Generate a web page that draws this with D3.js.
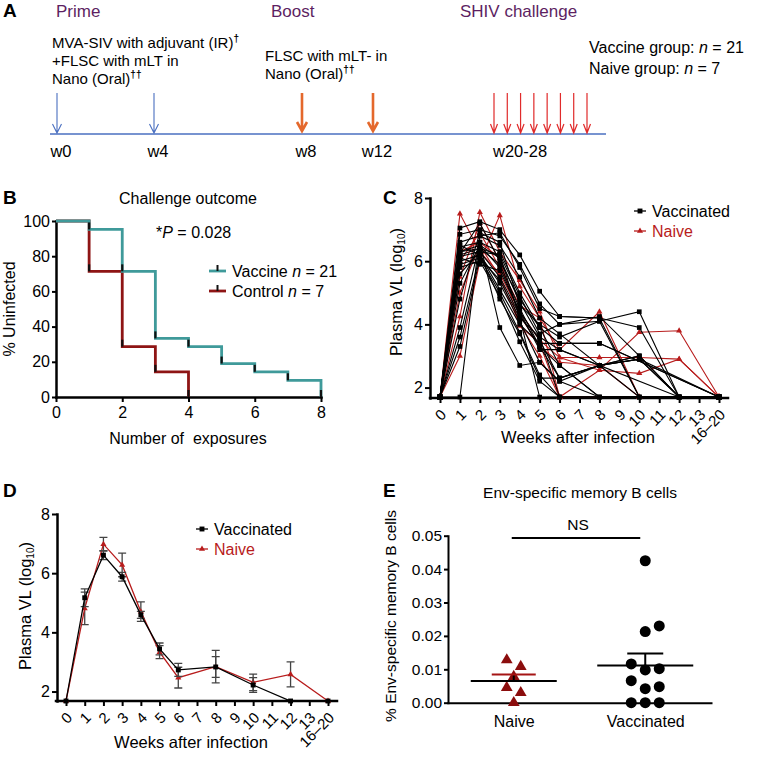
<!DOCTYPE html>
<html>
<head>
<meta charset="utf-8">
<script src="https://cdn.jsdelivr.net/npm/d3@7"></script>
<style>
  body { margin: 0; background: #fff; }
  svg { font-family: "Liberation Sans", Arial, Helvetica, sans-serif; }
</style>
</head>
<body>
<svg id="fig" width="768" height="759"></svg>
<script>
// ---- panel A: schedule ----
const primeWeeks = [0, 4];
const boostWeeks = [8, 12];
const challengeWeeks = [20, 21, 22, 23, 24, 25, 26, 27];
const timelineWeeks = [0, 4, 8, 12, 20];
const timelineLabels = ["w0", "w4", "w8", "w12", "w20-28"];

// ---- panel B: challenge outcome (% uninfected) ----
const vaccineExposures = [0, 1, 2, 3, 4, 5, 6, 7, 8];
const vaccinePct = [100, 95.2, 71.4, 33.3, 28.6, 19.0, 14.3, 9.5, 0];
const controlExposures = [0, 1, 2, 3, 4];
const controlPct = [100, 71.4, 28.6, 14.3, 0];

// ---- panels C, D: plasma viral load ----
const weekCats = ["0", "1", "2", "3", "4", "5", "6", "7", "8", "9", "10", "11", "12", "13", "16–20"];
const sampleWeeks = ["0", "1", "2", "3", "4", "5", "6", "8", "10", "12", "16–20"];

const vaccinatedVL = [
  [1.7, 7.05, 7.25, 7.0, 6.2, 5.05, 4.25, 4.2, 3.9, 1.7, 1.7],
  [1.7, 6.85, 7.0, 6.8, 5.9, 4.65, 4.0, 4.1, 4.4, 1.7, 1.7],
  [1.7, 6.6, 6.8, 6.5, 5.5, 4.2, 3.7, 2.7, 3.0, 1.7, 1.7],
  [1.7, 6.45, 6.6, 6.3, 5.0, 3.9, 3.4, 3.4, null, null, 1.7],
  [1.7, 6.3, 6.5, 6.1, 4.7, 3.6, 3.2, 2.7, 2.9, null, 1.7],
  [1.7, 6.2, 6.4, 5.9, 4.5, 3.3, 2.7, 1.7, null, null, 1.7],
  [1.7, 6.15, 6.3, 5.5, 4.3, 3.3, 2.3, 2.7, 1.7, null, 1.7],
  [1.7, 6.0, 6.2, 5.3, 4.1, 2.8, 2.2, 1.7, null, null, 1.7],
  [1.7, 5.9, 6.1, 5.0, 3.75, 2.4, 1.7, null, null, null, 1.7],
  [1.7, 5.8, 6.0, 4.9, 3.45, 2.2, 1.7, null, null, null, 1.7],
  [1.7, 5.6, 6.3, 6.2, 4.9, 3.7, 4.0, 4.25, 3.0, 1.7, 1.7],
  [1.7, 5.3, 6.5, 5.8, 4.4, 3.5, 2.3, 2.7, 2.9, 1.7, 1.7],
  [1.7, 4.8, 6.9, 6.6, 4.6, 4.0, 3.6, 4.1, 1.7, null, 1.7],
  [1.7, 3.9, 6.6, 3.9, 2.7, 2.8, 2.2, 2.7, null, 1.7, 1.7],
  [1.7, 3.6, 6.2, 5.1, 4.0, 3.4, 3.4, 3.4, null, null, 1.7],
  [1.7, 3.3, 6.1, 5.4, 4.2, 1.7, null, null, null, null, 1.7],
  [1.7, 1.7, 6.8, 6.9, 5.8, 4.5, 4.25, 4.2, 1.7, null, 1.7],
  [1.7, 6.25, 7.2, 6.0, 4.8, 3.9, 2.7, 1.7, null, null, 1.7],
  [1.7, 6.1, 5.9, 5.7, 4.4, 3.2, 3.2, 2.7, 3.0, 1.7, 1.7],
  [1.7, 6.3, 6.4, 6.2, 4.2, 3.6, 1.7, null, null, null, 1.7],
  [1.7, 6.5, 6.2, 4.8, 3.7, 2.3, 2.3, 2.7, 2.9, 1.7, 1.7]
];
const naiveVL = [
  [1.7, 7.5, 6.3, 5.6, 4.4, 3.5, 2.95, 2.55, 3.75, 3.8, 1.7],
  [1.7, 4.25, 7.55, 6.3, 5.4, 4.4, 2.95, 2.95, 2.95, 2.9, 1.7],
  [1.7, 3.0, 6.0, 7.45, 5.2, 4.2, 3.2, 4.4, 1.7, null, 1.7],
  [1.7, 6.3, 6.6, 6.1, 3.95, 3.4, 1.7, 2.55, 2.45, 2.9, 1.7],
  [1.7, 5.5, 7.2, 6.0, 4.3, 3.3, 2.8, 2.7, 1.7, null, 1.7],
  [1.7, 6.0, 6.9, 5.8, 4.6, 4.2, 1.7, null, null, null, 1.7],
  [1.7, 5.0, 6.5, 5.5, 4.0, 3.0, 1.7, null, null, null, 1.7]
];

const vaccMean = [1.68, 5.17, 6.61, 5.88, 4.59, 3.44, 2.73, 2.83, 2.22, 1.68, 1.68];
const vaccSem = [0, 0.3, 0.15, 0.15, 0.12, 0.2, 0.22, 0.35, 0.25, 0, 0];
const naiveMean = [1.68, 4.81, 6.98, 6.28, 4.70, 3.33, 2.47, 2.84, 2.31, 2.58, 1.68];
const naiveSem = [0, 0.55, 0.23, 0.4, 0.33, 0.22, 0.35, 0.55, 0.28, 0.42, 0];

// ---- panel E: Env-specific memory B cells (%) ----
const groups = ["Naive", "Vaccinated"];
const naiveB = [0.0108, 0.0128, 0.0078, 0.0045, 0.003, 0.0];
const vaccinatedB = [0.0425, 0.023, 0.0213, 0.0116, 0.0098, 0.0102, 0.0066, 0.0048, 0.0042, 0, 0, 0];

const font = "Liberation Sans, Arial, Helvetica, sans-serif";
const purple = "#5d1f62";
const teal = "#3f9a9a";
const darkRed = "#8e1515";
const naiveRed = "#b81c1c";

const svg = d3.select("#fig");

function letter(t, x, y) {
  svg.append("text").attr("x", x).attr("y", y)
    .attr("font-size", 19).attr("font-weight", "bold").text(t);
}

function styleAxis(g, fs) {
  g.attr("font-family", font).attr("font-size", fs);
  g.select(".domain").attr("stroke", "#000").attr("stroke-width", 2.5).attr("stroke-linecap", "square");
  g.selectAll(".tick line").attr("stroke", "#000").attr("stroke-width", 2);
  g.selectAll(".tick text").attr("fill", "#000");
}

// ================= A =================
letter("A", 3, 17);
const gA = svg.append("g");
const tx = d3.scaleLinear().domain([0, 4, 8, 12, 20, 27]).range([57, 154, 302, 373, 494, 587]);

[["Prime", 56], ["Boost", 271], ["SHIV challenge", 460]].forEach(([t, x]) => {
  gA.append("text").attr("x", x).attr("y", 17).attr("font-size", 17).attr("fill", purple).text(t);
});

function annot(x, y, txt, sup) {
  const t = gA.append("text").attr("x", x).attr("y", y).attr("font-size", 15).text(txt);
  if (sup) t.append("tspan").attr("font-size", 10).attr("font-weight", "bold").attr("dy", -6).text(sup);
}
annot(52, 48, "MVA-SIV with adjuvant (IR)", "†");
annot(52, 66, "+FLSC with mLT in");
annot(52, 84, "Nano (Oral)", "††");
annot(265, 61, "FLSC with mLT- in");
annot(265, 79, "Nano (Oral)", "††");

function groupLine(y, pre, n) {
  const t = gA.append("text").attr("x", 589).attr("y", y).attr("font-size", 16).text(pre);
  t.append("tspan").attr("font-style", "italic").text("n");
  t.append("tspan").text(" = " + n);
}
groupLine(53, "Vaccine group: ", 21);
groupLine(74, "Naive group: ", 7);

gA.append("line").attr("x1", 50).attr("x2", 606).attr("y1", 134).attr("y2", 134)
  .attr("stroke", "#4a6fc0").attr("stroke-width", 1.3);

function arrow(x, y0, y1, color, w, hw, hh) {
  gA.append("path")
    .attr("d", `M${x},${y0}V${y1}M${x - hw},${y1 - hh}L${x},${y1}L${x + hw},${y1 - hh}`)
    .attr("fill", "none").attr("stroke", color).attr("stroke-width", w);
}
primeWeeks.forEach(w => arrow(tx(w), 93, 133, "#4a6fc0", 1.1, 4.5, 9));
boostWeeks.forEach(w => arrow(tx(w), 93, 131, "#e4682c", 2.6, 5, 9));
challengeWeeks.forEach(w => arrow(tx(w), 93, 133, "#e02a2a", 1.2, 3.5, 9));

timelineWeeks.forEach((w, i) => {
  const last = i === timelineWeeks.length - 1;
  gA.append("text").attr("x", last ? tx(w) - 1 : tx(w) + 4).attr("y", 157)
    .attr("font-size", 16.5).attr("text-anchor", last ? "start" : "middle")
    .text(timelineLabels[i]);
});

// ================= B =================
letter("B", 3, 204);
const gB = svg.append("g");
const bx = d3.scaleLinear().domain([0, 8]).range([56, 321]);
const by = d3.scaleLinear().domain([0, 100]).range([397, 221]);

gB.append("text").attr("x", 188).attr("y", 204).attr("text-anchor", "middle")
  .attr("font-size", 16).text("Challenge outcome");

gB.append("g").attr("transform", "translate(0,397)")
  .call(d3.axisBottom(bx).tickValues([0, 2, 4, 6, 8]).tickSize(5).tickPadding(5).tickSizeOuter(0))
  .call(styleAxis, 16);
gB.append("g").attr("transform", "translate(56,0)")
  .call(d3.axisLeft(by).tickValues([0, 20, 40, 60, 80, 100]).tickSize(4).tickPadding(2).tickSizeOuter(0))
  .call(styleAxis, 16);

const stepLine = d3.line().x(d => bx(d[0])).y(d => by(d[1])).curve(d3.curveStepAfter);
const control = controlExposures.map((e, i) => [e, controlPct[i]]);
const vaccine = vaccineExposures.map((e, i) => [e, vaccinePct[i]]);
[[control, darkRed], [vaccine, teal]].forEach(([pts, col]) => {
  gB.append("path").datum(pts).attr("d", stepLine)
    .attr("fill", "none").attr("stroke", col).attr("stroke-width", 2.8);
  gB.selectAll(null).data(pts.slice(1)).join("line")
    .attr("x1", d => bx(d[0])).attr("x2", d => bx(d[0]))
    .attr("y1", d => by(d[1])).attr("y2", d => by(d[1]) - 7)
    .attr("stroke", "#111").attr("stroke-width", 2.2);
});

const pt = gB.append("text").attr("x", 156).attr("y", 238).attr("font-size", 16).text("*");
pt.append("tspan").attr("font-style", "italic").text("P");
pt.append("tspan").text(" = 0.028");

[["Vaccine ", 21, teal, 271], ["Control ", 7, darkRed, 291]].forEach(([lab, n, col, y]) => {
  gB.append("line").attr("x1", 209).attr("x2", 226).attr("y1", y).attr("y2", y)
    .attr("stroke", col).attr("stroke-width", 2.8);
  gB.append("line").attr("x1", 217.5).attr("x2", 217.5).attr("y1", y).attr("y2", y - 6)
    .attr("stroke", "#111").attr("stroke-width", 2);
  const t = gB.append("text").attr("x", 232).attr("y", y + 6).attr("font-size", 16).text(lab);
  t.append("tspan").attr("font-style", "italic").text("n");
  t.append("tspan").text(" = " + n);
});

gB.append("text").attr("x", 188).attr("y", 444).attr("text-anchor", "middle")
  .attr("font-size", 16).style("white-space", "pre").text("Number of  exposures");
gB.append("text").attr("transform", "translate(15,309) rotate(-90)").attr("text-anchor", "middle")
  .attr("font-size", 16).text("% Uninfected");

// ================= C & D shared =================
function vlAxes(g, x, y, o) {
  const gx = g.append("g").attr("transform", `translate(0,${o.axisY})`)
    .call(d3.axisBottom(x).tickSize(5).tickSizeOuter(0))
    .call(styleAxis, 15);
  gx.select(".domain").attr("d", `M${x.range()[0] - 10},0H${x.range()[1] + 9}`);
  gx.selectAll(".tick text").attr("text-anchor", "end").attr("x", 0).attr("y", 0)
    .attr("dy", "0.35em").attr("transform", "translate(3,14) rotate(-45)");
  g.append("g").attr("transform", `translate(${o.axisX},0)`)
    .call(d3.axisLeft(y).tickValues([2, 4, 6, 8]).tickFormat(d3.format("d"))
      .tickSize(5).tickPadding(2).tickSizeOuter(0))
    .call(styleAxis, 16);
  g.append("text").attr("x", o.titleX).attr("y", o.titleY).attr("text-anchor", "middle")
    .attr("font-size", 16.5).text("Weeks after infection");
  const yl = g.append("text").attr("transform", `translate(${o.labelX},${o.labelY}) rotate(-90)`)
    .attr("text-anchor", "middle").attr("font-size", 16.5);
  yl.append("tspan").text("Plasma VL (log");
  yl.append("tspan").attr("font-size", 10).attr("dy", 3).text("10");
  yl.append("tspan").attr("dy", -3).text(")");
  // legend
  [["Vaccinated", "#000", d3.symbolSquare, 24, 0], ["Naive", naiveRed, d3.symbolTriangle, 16, 20]].forEach(([lab, col, sym, sz, dy]) => {
    const ly = o.legY + dy;
    g.append("line").attr("x1", o.legX).attr("x2", o.legX + 12).attr("y1", ly).attr("y2", ly)
      .attr("stroke", col).attr("stroke-width", 1.3);
    g.append("path").attr("d", d3.symbol(sym, sz)()).attr("transform", `translate(${o.legX + 6},${ly})`).attr("fill", col);
    g.append("text").attr("x", o.legX + 18).attr("y", ly + 6).attr("font-size", 16).attr("fill", col).text(lab);
  });
}

function seriesPoints(vals) {
  return sampleWeeks.map((w, i) => [w, vals[i]]).filter(d => d[1] != null);
}

// ================= C =================
letter("C", 383, 204);
const gC = svg.append("g");
const cx = d3.scalePoint().domain(weekCats).range([440, 719]);
const cy = d3.scaleLinear().domain([1.67, 8]).range([398, 198]);
vlAxes(gC, cx, cy, { axisY: 398, axisX: 430, titleX: 578, titleY: 443, labelX: 402, labelY: 292, legX: 634, legY: 211 });

const cLine = d3.line().x(d => cx(d[0])).y(d => cy(d[1]));
function drawIndividuals(data, col, sym, sz) {
  data.forEach(vals => {
    const pts = seriesPoints(vals);
    gC.append("path").datum(pts).attr("d", cLine)
      .attr("fill", "none").attr("stroke", col).attr("stroke-width", 1.1);
    gC.selectAll(null).data(pts).join("path")
      .attr("d", d3.symbol(sym, sz)())
      .attr("transform", d => `translate(${cx(d[0])},${cy(d[1])})`)
      .attr("fill", col);
  });
}
drawIndividuals(naiveVL, naiveRed, d3.symbolTriangle, 16);
drawIndividuals(vaccinatedVL, "#000", d3.symbolSquare, 22);

// ================= D =================
letter("D", 3, 497);
const gD = svg.append("g");
const dx = d3.scalePoint().domain(weekCats).range([66, 328]);
const dy = d3.scaleLinear().domain([1.68, 8]).range([701, 514]);
vlAxes(gD, dx, dy, { axisY: 701, axisX: 57, titleX: 191, titleY: 748, labelX: 31, labelY: 606, legX: 196, legY: 529 });

const dLine = d3.line().x(d => dx(d[0])).y(d => dy(d[1]));
function drawMean(mean, sem, col, sym, sz) {
  const pts = sampleWeeks.map((w, i) => ({ w, m: mean[i], s: sem[i] }));
  gD.selectAll(null).data(pts.filter(d => d.s > 0)).join("path")
    .attr("d", d => {
      const x = dx(d.w), y0 = dy(d.m - d.s), y1 = dy(d.m + d.s);
      return `M${x},${y0}V${y1}M${x - 4},${y0}H${x + 4}M${x - 4},${y1}H${x + 4}`;
    })
    .attr("fill", "none").attr("stroke", "#444").attr("stroke-width", 1.3);
  gD.append("path").datum(pts.map(d => [d.w, d.m])).attr("d", dLine)
    .attr("fill", "none").attr("stroke", col).attr("stroke-width", 1.3);
  gD.selectAll(null).data(pts).join("path")
    .attr("d", d3.symbol(sym, sz)())
    .attr("transform", d => `translate(${dx(d.w)},${dy(d.m)})`)
    .attr("fill", col);
}
drawMean(naiveMean, naiveSem, naiveRed, d3.symbolTriangle, 16);
drawMean(vaccMean, vaccSem, "#000", d3.symbolSquare, 24);

// ================= E =================
letter("E", 383, 497);
const gE = svg.append("g");
const ex = d3.scalePoint().domain(groups).range([448, 711]).padding(0.5);
const ey = d3.scaleLinear().domain([0, 0.05]).range([702.7, 535.7]);

gE.append("text").attr("x", 580).attr("y", 498).attr("text-anchor", "middle")
  .attr("font-size", 15.5).text("Env-specific memory B cells");

gE.append("g").attr("transform", "translate(0,702.7)")
  .call(d3.axisBottom(ex).tickSize(0).tickPadding(13).tickSizeOuter(0))
  .call(styleAxis, 16);
gE.append("g").attr("transform", "translate(448,0)")
  .call(d3.axisLeft(ey).tickValues([0, 0.01, 0.02, 0.03, 0.04, 0.05]).tickFormat(d3.format(".2f"))
    .tickSize(4).tickPadding(2).tickSizeOuter(0))
  .call(styleAxis, 15.5);
gE.selectAll(".domain").attr("stroke-width", 2);

gE.append("text").attr("transform", "translate(396,616) rotate(-90)").attr("text-anchor", "middle")
  .attr("font-size", 15.5).text("% Env-specific memory B cells");

// NS bracket
gE.append("line").attr("x1", ex("Naive") - 2).attr("x2", ex("Vaccinated") - 5)
  .attr("y1", 538).attr("y2", 538).attr("stroke", "#000").attr("stroke-width", 2);
gE.append("text").attr("x", 578).attr("y", 530).attr("text-anchor", "middle")
  .attr("font-size", 15.5).text("NS");

// simple beeswarm offsets
function swarm(vals, r) {
  const placed = [];
  const out = new Array(vals.length);
  vals.map((v, i) => ({ v, i })).sort((a, b) => a.v - b.v).forEach(o => {
    const py = ey(o.v);
    for (let k = 0; ; k++) {
      const off = k === 0 ? 0 : (k % 2 ? 1 : -1) * Math.ceil(k / 2) * 7;
      const hit = placed.some(p => Math.hypot(p.x - off, p.y - py) < 2 * r + 2);
      if (!hit) { placed.push({ x: off, y: py }); out[o.i] = off; break; }
    }
  });
  return out;
}

function dotGroup(name, vals, col, sym, sz, r, meanHalf, capHalf, capCol) {
  const offs = swarm(vals, r);
  const x0 = ex(name);
  gE.selectAll(null).data(vals).join("path")
    .attr("d", d3.symbol(sym, sz)())
    .attr("transform", (d, i) => `translate(${x0 + offs[i]},${ey(d)})`)
    .attr("fill", col);
  const m = d3.mean(vals);
  const sem = d3.deviation(vals) / Math.sqrt(vals.length);
  gE.append("line").attr("x1", x0 - meanHalf).attr("x2", x0 + meanHalf)
    .attr("y1", ey(m)).attr("y2", ey(m)).attr("stroke", "#000").attr("stroke-width", 2);
  gE.append("line").attr("x1", x0).attr("x2", x0)
    .attr("y1", ey(m)).attr("y2", ey(m + sem)).attr("stroke", "#000").attr("stroke-width", 2);
  gE.append("line").attr("x1", x0 - capHalf).attr("x2", x0 + capHalf)
    .attr("y1", ey(m + sem)).attr("y2", ey(m + sem)).attr("stroke", capCol).attr("stroke-width", 2);
}
dotGroup("Naive", naiveB, "#8b0d0d", d3.symbolTriangle, 60, 5, 43, 22, "#a51515");
dotGroup("Vaccinated", vaccinatedB, "#000", d3.symbolCircle, 95, 5.5, 48, 18, "#000");
</script>
</body>
</html>
